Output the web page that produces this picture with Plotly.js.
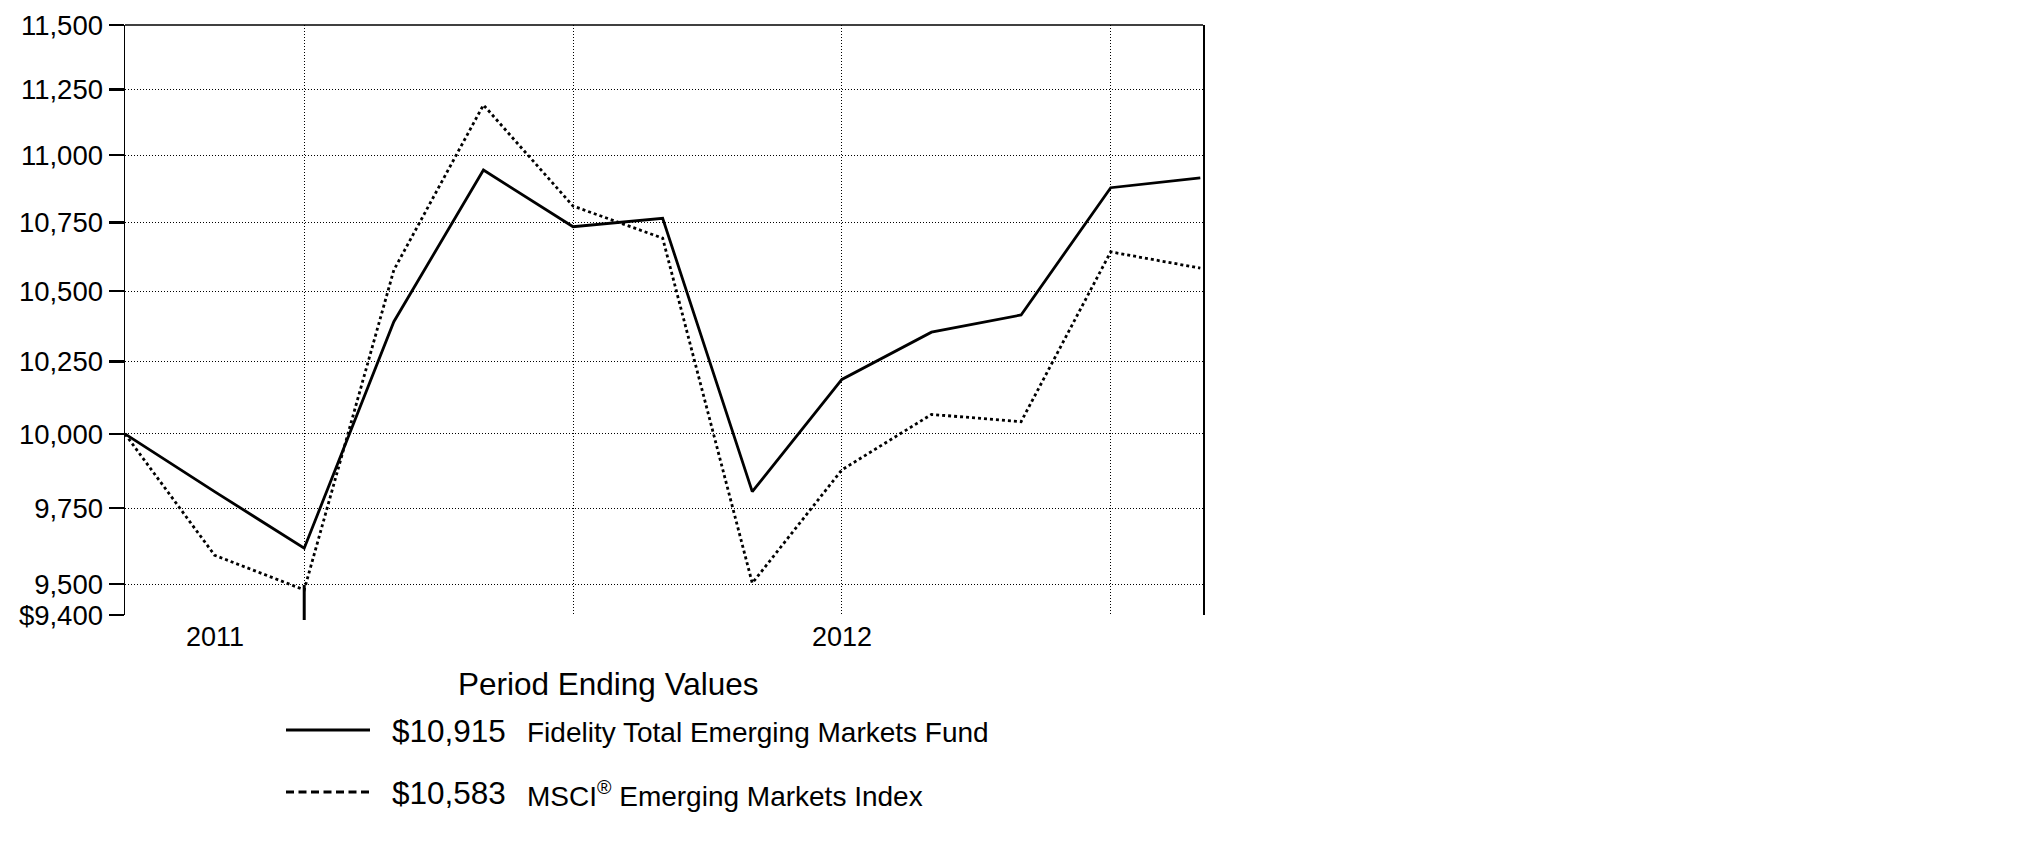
<!DOCTYPE html>
<html><head><meta charset="utf-8">
<script src="https://cdn.plot.ly/plotly-3.0.1.min.js"></script>
<style>html,body{margin:0;padding:0;background:#fff;}#chart{width:2025px;height:851px;}</style>
</head><body><div id="chart"></div>
<script>
// ---- data ----
const periods = ['Nov 1 2011','Nov 2011','Dec 2011','Jan 2012','Feb 2012','Mar 2012','Apr 2012','May 2012','Jun 2012','Jul 2012','Aug 2012','Sep 2012','Oct 2012'];
const fundValues  = [10000, 9805, 9617, 10391, 10944, 10734, 10765, 9805, 10188, 10354, 10415, 10878, 10915];
const indexValues = [10000, 9594, 9481, 10576, 11190, 10810, 10692, 9503, 9878, 10067, 10042, 10642, 10583];
const seriesNames = ['Fidelity Total Emerging Markets Fund', 'MSCI<sup>®</sup> Emerging Markets Index'];
const yTickVals = [9400, 9500, 9750, 10000, 10250, 10500, 10750, 11000, 11250, 11500];
const yTickText = ['$9,400','9,500','9,750','10,000','10,250','10,500','10,750','11,000','11,250','11,500'];
const gridPeriods = ['Dec 2011','Mar 2012','Jun 2012','Sep 2012'];
const yearLabels = ['2011','2012'];
const yearLabelPeriods = ['Nov 2011','Jun 2012'];
const markerPeriod = 'Dec 2011';
const legendTitle = 'Period Ending Values';

// ---- layout geometry (pixels) ----
const W = 2025, H = 851;
const L = 125, T = 25, PW = 1078, PH = 590;
const px = p => (p - L) / PW;
const py = p => (T + PH - p) / PH;
const FONT = 'Liberation Sans, Arial, Helvetica, sans-serif';
const fmt = v => '$' + v.toLocaleString('en-US');

const traces = [
  {x: periods, y: fundValues, type: 'scatter', mode: 'lines', name: seriesNames[0],
   line: {color: '#000', width: 2.8}, hoverinfo: 'skip'},
  {x: periods, y: indexValues, type: 'scatter', mode: 'lines', name: seriesNames[1],
   line: {color: '#000', width: 2.8, dash: '3px,3px'}, hoverinfo: 'skip'}
];

const annotations = [];
yearLabels.forEach((t, i) => {
  annotations.push({text: t, xref: 'x', x: periods.indexOf(yearLabelPeriods[i]), yref: 'paper', y: py(637),
    xanchor: 'center', yanchor: 'middle', showarrow: false, font: {family: FONT, size: 27, color: '#000'}});
});
annotations.push({text: legendTitle, xref: 'paper', x: px(608), yref: 'paper', y: py(684),
  xanchor: 'center', yanchor: 'middle', showarrow: false, font: {family: FONT, size: 31.5, color: '#000'}});
const finals = [fundValues[fundValues.length - 1], indexValues[indexValues.length - 1]];
const rowY = [731, 793];
const shapes = [];
finals.forEach((v, i) => {
  annotations.push({text: fmt(v), xref: 'paper', x: px(390), yref: 'paper', y: py(rowY[i]),
    xanchor: 'left', yanchor: 'middle', showarrow: false, font: {family: FONT, size: 31.5, color: '#000'}});
  annotations.push({text: seriesNames[i], xref: 'paper', x: px(525), yref: 'paper', y: py(rowY[i] + 1),
    xanchor: 'left', yanchor: 'middle', showarrow: false, font: {family: FONT, size: 28, color: '#000'}});
  shapes.push({type: 'line', xref: 'paper', yref: 'paper', x0: px(286), x1: px(370), y0: py(rowY[i] - 1), y1: py(rowY[i] - 1),
    line: {color: '#000', width: i === 0 ? 3.2 : 2.8, dash: i === 0 ? 'solid' : '8px,4.5px'}});
});
// top border
shapes.push({type: 'line', xref: 'paper', yref: 'paper', x0: 0, x1: 1, y0: 1, y1: 1, line: {color: '#000', width: 1.5}});
// thick marker below the plot
const mi = periods.indexOf(markerPeriod);
shapes.push({type: 'line', xref: 'x', yref: 'paper', x0: mi, x1: mi, y0: py(620), y1: py(585), line: {color: '#000', width: 3}});

const layout = {
  width: W, height: H,
  margin: {l: L, r: W - L - PW, t: T, b: H - T - PH, pad: 0},
  paper_bgcolor: '#fff', plot_bgcolor: '#fff',
  showlegend: false,
  xaxis: {type: 'category', range: [0, 12.03], tickvals: gridPeriods, showticklabels: false, ticks: '',
    showgrid: true, gridcolor: '#000', gridwidth: 1, griddash: '1px,2px', showline: false, zeroline: false, fixedrange: true},
  yaxis: {type: 'log', range: [Math.log10(9400), Math.log10(11500)], tickvals: yTickVals, ticktext: yTickText,
    ticks: 'outside', ticklen: 15, tickwidth: 2.5, tickcolor: '#000',
    tickfont: {family: FONT, size: 27.5, color: '#000'},
    showgrid: true, gridcolor: '#000', gridwidth: 1, griddash: '1px,2px',
    showline: true, linecolor: '#000', linewidth: 1.5, mirror: true, zeroline: false, fixedrange: true},
  annotations: annotations,
  shapes: shapes
};

Plotly.newPlot('chart', traces, layout, {staticPlot: true, displayModeBar: false});
</script>
</body></html>
